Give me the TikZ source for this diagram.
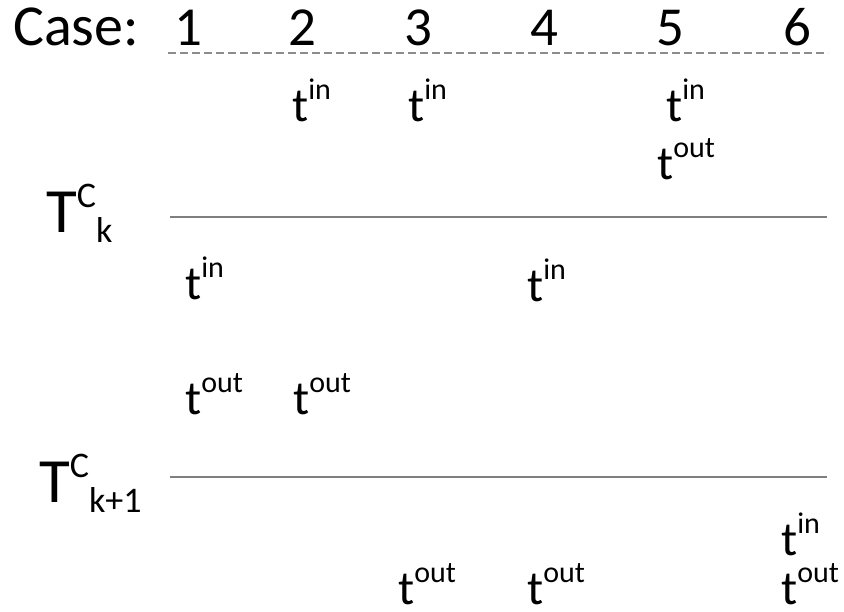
\documentclass[tikz,border=0pt]{standalone}
\usepackage{fontspec}
\setmainfont{Carlito}
\usetikzlibrary{positioning}
\definecolor{CaseInk}{HTML}{000000}
\definecolor{CaseLevel}{HTML}{7F7F7F}
\definecolor{CaseDash}{HTML}{8C8C8C}
\newcommand{\evt}[1]{t\raisebox{22pt}{\fontsize{30}{30}\selectfont #1}}
\newcommand{\lvl}[1]{T\raisebox{25pt}{\fontsize{36}{36}\selectfont C}\raisebox{-10pt}{\fontsize{36}{36}\selectfont #1}}
\tikzset{
  case head/.style={
    text=CaseInk,
    anchor=base west,
    inner sep=0pt,
    font=\fontsize{58}{58}\selectfont
  },
  case num/.style={
    text=CaseInk,
    anchor=base,
    inner sep=0pt,
    font=\fontsize{55}{55}\selectfont
  },
  event label/.style={
    text=CaseInk,
    anchor=base west,
    inner sep=0pt,
    font=\fontsize{48}{48}\selectfont
  },
  level label/.style={
    text=CaseInk,
    anchor=base west,
    inner sep=0pt,
    font=\fontsize{63}{63}\selectfont
  },
  case rule/.style={draw=CaseDash,line width=1.5pt,dash pattern=on 8pt off 4pt},
  level line/.style={draw=CaseLevel,line width=1.8pt}
}

\begin{document}
\begin{tikzpicture}[x=1pt,y=-1pt]
  \useasboundingbox (0,0) rectangle (844,612);

  % case header
  \node[case head] (casehd) at (13,46) {Case:};
  \foreach \n/\x in {1/188,2/302,3/418,4/544,5/670,6/797}
    \node[case num] (case\n) at (\x,46) {\n};
  \coordinate (dashL) at (168,53);
  \coordinate (dashR) at (828,53);
  \draw[case rule] (dashL) -- (dashR);

  % levels
  \node[level label] (levk) at (46,233) {\lvl{k}};
  \node[level label] (levkk) at (39,502) {\lvl{k+1}};
  \coordinate (kL) at (170,217);
  \coordinate (kR) at (827,217);
  \coordinate (kkL) at (170,477);
  \coordinate (kkR) at (827,477);
  \draw[level line] (kL) -- (kR);
  \draw[level line] (kkL) -- (kkR);

  % entry and exit times
  \node[event label] (in2) at (292,122) {\evt{in}};
  \node[event label] (in3) at (408,122) {\evt{in}};
  \node[event label] (in5) at (666,122) {\evt{in}};
  \node[event label] (out5) at (657,180) {\evt{out}};
  \node[event label] (in1) at (185,300) {\evt{in}};
  \node[event label] (in4) at (527,302) {\evt{in}};
  \node[event label] (out1) at (185,415) {\evt{out}};
  \node[event label] (out2) at (293,415) {\evt{out}};
  \node[event label] (in6) at (781,555) {\evt{in}};
  \node[event label] (out3) at (398,604) {\evt{out}};
  \node[event label] (out4) at (527,604) {\evt{out}};
  \node[event label] (out6) at (781,604) {\evt{out}};
\end{tikzpicture}
\end{document}
